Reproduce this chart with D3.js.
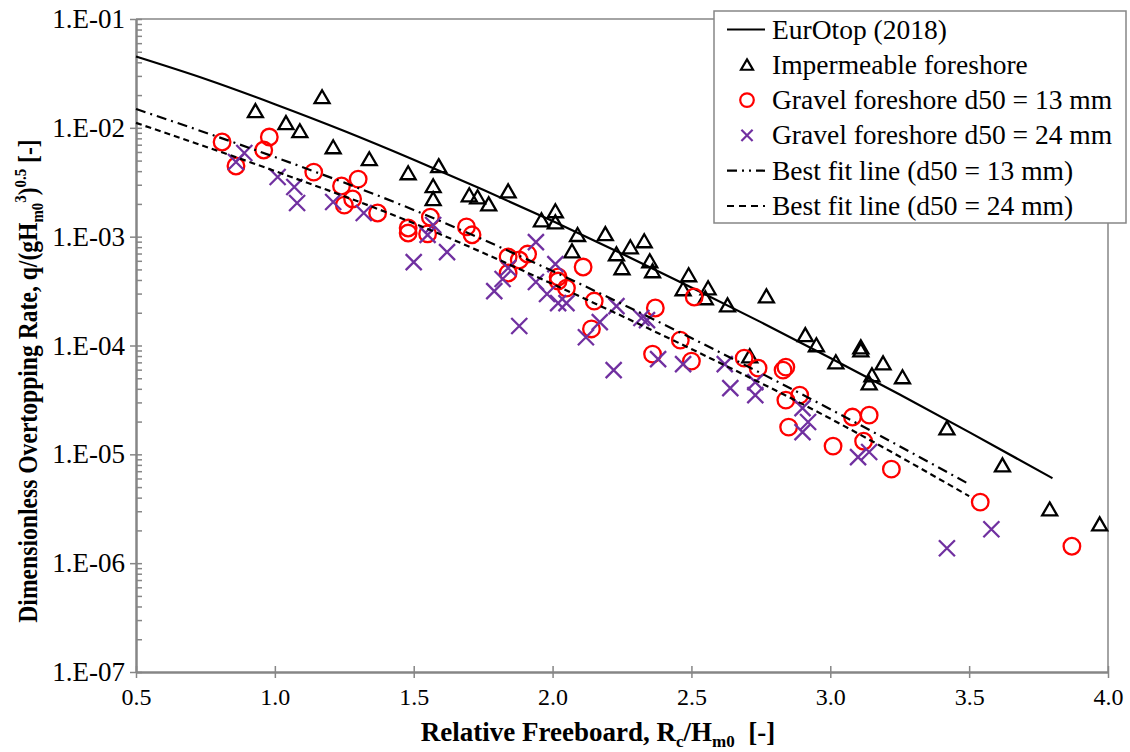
<!DOCTYPE html>
<html>
<head>
<meta charset="utf-8">
<script src="https://cdn.jsdelivr.net/npm/d3@7"></script>
<style>
  body { margin: 0; background: #fff; }
  text { font-family: "Liberation Serif", "Times New Roman", serif; fill: #000; }
</style>
</head>
<body>
<svg id="chart" width="1130" height="752"></svg>
<script>
// ---- axis ticks ----
const xTickValues = [0.5, 1.0, 1.5, 2.0, 2.5, 3.0, 3.5, 4.0];
const xTickLabels = ["0.5", "1.0", "1.5", "2.0", "2.5", "3.0", "3.5", "4.0"];
const yTickValues = [1e-7, 1e-6, 1e-5, 1e-4, 1e-3, 1e-2, 1e-1];
const yTickLabels = ["1.E-07", "1.E-06", "1.E-05", "1.E-04", "1.E-03", "1.E-02", "1.E-01"];

// ---- EurOtop (2018) prediction, [Rc/Hm0, q*] ----
const eurotop = [
  [0.5, 4.52e-2], [0.75, 2.81e-2], [1.0, 1.65e-2], [1.25, 9.36e-3], [1.5, 5.10e-3],
  [1.75, 2.70e-3], [2.0, 1.39e-3], [2.25, 6.97e-4], [2.5, 3.41e-4], [2.75, 1.64e-4],
  [3.0, 7.68e-5], [3.25, 3.54e-5], [3.5, 1.60e-5], [3.8, 6.04e-6]
];

// ---- best fit lines ----
const fit13 = [
  [0.5, 1.49e-2], [1.0, 5.39e-3], [1.5, 1.76e-3], [2.0, 4.83e-4],
  [2.5, 1.17e-4], [3.0, 2.60e-5], [3.5, 5.32e-6]
];
const fit24 = [
  [0.5, 1.11e-2], [1.0, 4.01e-3], [1.5, 1.33e-3], [2.0, 3.67e-4],
  [2.5, 9.27e-5], [3.0, 2.13e-5], [3.5, 4.13e-6]
];

// ---- measurements ----
const impermeable = [
  [0.93, 1.43e-2], [1.04, 1.11e-2], [1.09, 9.35e-3], [1.17, 1.92e-2], [1.21, 6.66e-3],
  [1.34, 5.17e-3], [1.48, 3.84e-3], [1.59, 4.46e-3], [1.57, 2.92e-3], [1.57, 2.22e-3],
  [1.70, 2.41e-3], [1.73, 2.31e-3], [1.77, 1.99e-3], [1.84, 2.62e-3], [1.96, 1.42e-3],
  [2.01, 1.72e-3], [2.01, 1.36e-3], [2.09, 1.04e-3], [2.07, 7.37e-4], [2.19, 1.06e-3],
  [2.23, 6.92e-4], [2.28, 8.02e-4], [2.33, 9.11e-4], [2.25, 5.15e-4], [2.35, 5.97e-4],
  [2.36, 4.83e-4], [2.49, 4.44e-4], [2.47, 3.30e-4], [2.56, 3.37e-4], [2.55, 2.73e-4],
  [2.63, 2.35e-4], [2.77, 2.84e-4], [2.71, 7.99e-5], [2.91, 1.25e-4], [2.95, 1.01e-4],
  [3.02, 7.04e-5], [3.11, 9.67e-5], [3.11, 9.07e-5], [3.19, 6.89e-5], [3.15, 5.35e-5],
  [3.14, 4.51e-5], [3.26, 5.13e-5], [3.42, 1.74e-5], [3.62, 7.96e-6], [3.79, 3.13e-6],
  [3.97, 2.28e-6]
];
const gravel13 = [
  [0.81, 7.41e-3], [0.86, 4.46e-3], [0.98, 8.23e-3], [0.96, 6.25e-3], [1.14, 3.92e-3],
  [1.24, 2.92e-3], [1.30, 3.38e-3], [1.28, 2.22e-3], [1.25, 1.95e-3], [1.37, 1.65e-3],
  [1.48, 1.20e-3], [1.48, 1.08e-3], [1.56, 1.51e-3], [1.55, 1.06e-3], [1.69, 1.23e-3],
  [1.71, 1.04e-3], [1.84, 6.50e-4], [1.88, 6.10e-4], [1.91, 6.92e-4], [1.84, 4.63e-4],
  [2.02, 4.26e-4], [2.02, 3.91e-4], [2.05, 3.37e-4], [2.11, 5.26e-4], [2.15, 2.56e-4],
  [2.14, 1.42e-4], [2.37, 2.21e-4], [2.36, 8.34e-5], [2.46, 1.12e-4], [2.50, 7.19e-5],
  [2.51, 2.79e-4], [2.69, 7.66e-5], [2.74, 6.20e-5], [2.84, 6.33e-5], [2.83, 5.94e-5],
  [2.84, 3.15e-5], [2.89, 3.50e-5], [2.85, 1.78e-5], [3.01, 1.19e-5], [3.08, 2.20e-5],
  [3.14, 2.29e-5], [3.12, 1.32e-5], [3.22, 7.31e-6], [3.54, 3.64e-6], [3.87, 1.43e-6]
];
const gravel24 = [
  [0.86, 4.85e-3], [0.89, 5.87e-3], [1.01, 3.53e-3], [1.07, 2.86e-3], [1.08, 2.04e-3],
  [1.21, 2.08e-3], [1.32, 1.65e-3], [1.57, 1.28e-3], [1.55, 1.04e-3], [1.50, 5.84e-4],
  [1.62, 7.22e-4], [1.94, 8.92e-4], [1.84, 5.15e-4], [1.82, 4.08e-4], [1.79, 3.16e-4],
  [1.94, 3.83e-4], [1.98, 2.97e-4], [2.01, 5.60e-4], [2.02, 2.45e-4], [2.05, 2.45e-4],
  [1.88, 1.51e-4], [2.12, 1.19e-4], [2.17, 1.64e-4], [2.23, 2.30e-4], [2.32, 1.79e-4],
  [2.34, 1.71e-4], [2.22, 5.94e-5], [2.38, 7.50e-5], [2.47, 6.74e-5], [2.62, 6.74e-5],
  [2.64, 4.06e-5], [2.73, 4.61e-5], [2.73, 3.50e-5], [2.90, 2.66e-5], [2.92, 1.98e-5],
  [2.90, 1.60e-5], [3.10, 9.42e-6], [3.14, 1.05e-5], [3.42, 1.37e-6], [3.58, 2.05e-6]
];

const legendLabels = [
  "EurOtop (2018)", "Impermeable foreshore", "Gravel foreshore d50 = 13 mm",
  "Gravel foreshore d50 = 24 mm", "Best fit line (d50 = 13 mm)", "Best fit line (d50 = 24 mm)"
];

// ---- layout ----
const plot = { left: 136, right: 1108, top: 19, bottom: 672 };
const axisColor = "#868686";
const red = "#ff0000";
const purple = "#7030a0";
const serif = '"Liberation Serif", "Times New Roman", serif';

const svg = d3.select("#chart");
const x = d3.scaleLinear().domain([0.5, 4.0]).range([plot.left, plot.right]);
const y = d3.scaleLog().domain([1e-7, 1e-1]).range([plot.bottom, plot.top]);

// frame (top and right)
svg.append("path")
  .attr("d", `M${plot.left},${plot.top}H${plot.right}V${plot.bottom}`)
  .attr("fill", "none").attr("stroke", axisColor).attr("stroke-width", 1.5);

function styleAxis(g, fontSize) {
  g.attr("font-family", serif);
  g.select(".domain").attr("stroke", axisColor).attr("stroke-width", 2);
  g.selectAll(".tick line").attr("stroke", axisColor).attr("stroke-width", 1.5);
  g.selectAll(".tick text")
    .style("font-family", serif)
    .style("font-size", fontSize + "px").attr("fill", "#000");
}

// x axis: outer ticks with labels, inner ticks without
const xOuter = svg.append("g").attr("transform", `translate(0,${plot.bottom})`)
  .call(d3.axisBottom(x).tickValues(xTickValues)
    .tickFormat((d, i) => xTickLabels[i]).tickSizeInner(6).tickSizeOuter(0).tickPadding(10));
styleAxis(xOuter, 24);
const xInner = svg.append("g").attr("transform", `translate(0,${plot.bottom})`)
  .call(d3.axisBottom(x).tickValues(xTickValues).tickFormat("").tickSizeInner(-6).tickSizeOuter(0));
styleAxis(xInner, 24);

// y axis: major ticks cross the axis, minor ticks point inward
const yOuter = svg.append("g").attr("transform", `translate(${plot.left},0)`)
  .call(d3.axisLeft(y).tickValues(yTickValues)
    .tickFormat((d, i) => yTickLabels[i]).tickSizeInner(6).tickSizeOuter(0).tickPadding(5));
styleAxis(yOuter, 27);
const yMinor = y.ticks().filter(v => !yTickValues.some(m => Math.abs(m - v) / m < 1e-6));
const yInner = svg.append("g").attr("transform", `translate(${plot.left},0)`)
  .call(d3.axisLeft(y).tickValues(yTickValues.concat(yMinor)).tickFormat("").tickSizeInner(-6).tickSizeOuter(0));
styleAxis(yInner, 24);
yOuter.select(".domain").raise();

// axis titles
const yTitle = svg.append("text")
  .attr("transform", "translate(37,381) rotate(-90) scale(0.875,1)")
  .attr("text-anchor", "middle")
  .style("font-size", "27px").style("font-weight", "bold");
yTitle.append("tspan").text("Dimensionless Overtopping Rate, q/(gH");
yTitle.append("tspan").attr("dy", 6).style("font-size", "17px").text("m0");
yTitle.append("tspan").attr("dy", -17).style("font-size", "17px").text("3");
yTitle.append("tspan").attr("dy", 11).text(")");
yTitle.append("tspan").attr("dy", -11).style("font-size", "17px").text("0.5");
yTitle.append("tspan").attr("dy", 11).text("\u00a0[-]");

const xTitle = svg.append("text")
  .attr("x", 598).attr("y", 741)
  .attr("text-anchor", "middle")
  .style("font-size", "27px").style("font-weight", "bold");
xTitle.append("tspan").text("Relative Freeboard, R");
xTitle.append("tspan").attr("dy", 6).style("font-size", "17px").text("c");
xTitle.append("tspan").attr("dy", -6).text("/H");
xTitle.append("tspan").attr("dy", 6).style("font-size", "17px").text("m0");
xTitle.append("tspan").attr("dy", -6).text("\u00a0\u00a0[-]");

// ---- marker shapes ----
const triPath = s => `M0,${-6.8 * s}L${7.5 * s},${6.2 * s}L${-7.5 * s},${6.2 * s}Z`;
const crossPath = s => `M${-8 * s},${-8 * s}L${8 * s},${8 * s}M${8 * s},${-8 * s}L${-8 * s},${8 * s}`;

const plotG = svg.append("g");
const lineGen = d3.line().x(d => x(d[0])).y(d => y(d[1])).curve(d3.curveMonotoneX);

// EurOtop line
plotG.append("path").datum(eurotop).attr("d", lineGen)
  .attr("fill", "none").attr("stroke", "#000").attr("stroke-width", 2.2);

// Impermeable foreshore
plotG.append("g").selectAll("path").data(impermeable).join("path")
  .attr("transform", d => `translate(${x(d[0])},${y(d[1])})`)
  .attr("d", triPath(1)).attr("fill", "none").attr("stroke", "#000").attr("stroke-width", 2.3);

// Gravel foreshore d50 = 13 mm
plotG.append("g").selectAll("circle").data(gravel13).join("circle")
  .attr("cx", d => x(d[0])).attr("cy", d => y(d[1])).attr("r", 8.3)
  .attr("fill", "none").attr("stroke", red).attr("stroke-width", 2.3);

// Gravel foreshore d50 = 24 mm
plotG.append("g").selectAll("path").data(gravel24).join("path")
  .attr("transform", d => `translate(${x(d[0])},${y(d[1])})`)
  .attr("d", crossPath(1)).attr("fill", "none").attr("stroke", purple).attr("stroke-width", 2.3);

// best fit lines
const dashDot = "10,5,2,5";
const dashed = "6,4";
plotG.append("path").datum(fit13).attr("d", lineGen)
  .attr("fill", "none").attr("stroke", "#000").attr("stroke-width", 2.2).attr("stroke-dasharray", dashDot);
plotG.append("path").datum(fit24).attr("d", lineGen)
  .attr("fill", "none").attr("stroke", "#000").attr("stroke-width", 2.2).attr("stroke-dasharray", dashed);

// ---- legend ----
const legend = svg.append("g");
legend.append("rect").attr("x", 714).attr("y", 11).attr("width", 412).attr("height", 212)
  .attr("fill", "#fff").attr("stroke", axisColor).attr("stroke-width", 1.5);
const rowY = i => 29.5 + i * 35.3;
legendLabels.forEach((label, i) => {
  const cy = rowY(i);
  legend.append("text").attr("x", 772).attr("y", cy + 9)
    .style("font-size", "27.5px").text(label);
  if (i === 0 || i >= 4) {
    legend.append("line").attr("x1", 727).attr("x2", 765).attr("y1", cy).attr("y2", cy)
      .attr("stroke", "#000").attr("stroke-width", 2.2)
      .attr("stroke-dasharray", i === 4 ? "10,5,2,5,2,5" : i === 5 ? "7,5" : null);
  } else if (i === 1) {
    legend.append("path").attr("transform", `translate(747,${cy})`).attr("d", triPath(0.8))
      .attr("fill", "none").attr("stroke", "#000").attr("stroke-width", 2.2);
  } else if (i === 2) {
    legend.append("circle").attr("cx", 747).attr("cy", cy).attr("r", 6.8)
      .attr("fill", "none").attr("stroke", red).attr("stroke-width", 2.2);
  } else {
    legend.append("path").attr("transform", `translate(747,${cy})`).attr("d", crossPath(0.7))
      .attr("fill", "none").attr("stroke", purple).attr("stroke-width", 2.2);
  }
});
</script>
</body>
</html>
